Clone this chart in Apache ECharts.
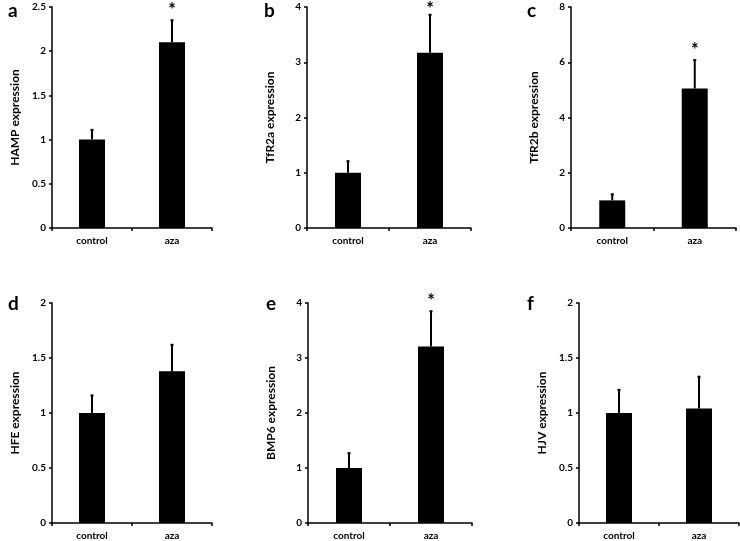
<!DOCTYPE html>
<html><head><meta charset="utf-8">
<script src="https://cdn.jsdelivr.net/npm/echarts@6/dist/echarts.min.js"></script>
<style>html,body{margin:0;padding:0;background:#fff}#c{width:740px;height:541px}</style>
</head><body><div id="c"></div>
<script>
const categories = ['control', 'aza'];
const panelLetters = ['a', 'b', 'c', 'd', 'e', 'f'];
const yNames = ['HAMP expression', 'TfR2a expression', 'TfR2b expression', 'HFE expression', 'BMP6 expression', 'HJV expression'];
const meansA = [1, 2.1], errA = [0.11, 0.25];
const meansB = [1, 3.17], errB = [0.21, 0.69];
const meansC = [1, 5.05], errC = [0.22, 1.03];
const meansD = [1, 1.38], errD = [0.16, 0.24];
const meansE = [1, 3.21], errE = [0.27, 0.64];
const meansF = [1, 1.04], errF = [0.21, 0.29];
const means = [meansA, meansB, meansC, meansD, meansE, meansF];
const errs = [errA, errB, errC, errD, errE, errF];
const yMax = [2.5, 4, 8, 2, 4, 2];
const yInterval = [0.5, 1, 2, 0.5, 1, 0.5];
const significant = [[false, true], [false, true], [false, true], [false, false], [false, true], [false, false]];

const FONT = 'Lato';
const grids = [
  {left: 52, top: 7, width: 160, height: 221},
  {left: 307, top: 7, width: 164, height: 221},
  {left: 571, top: 7, width: 165, height: 221},
  {left: 52, top: 303, width: 160, height: 221},
  {left: 308, top: 303, width: 164, height: 221},
  {left: 579, top: 303, width: 160, height: 221}
];
const letterPos = [[14, 13], [270, 13], [533, 13], [14, 306], [272, 306], [533, 306]];

const xAxes = [], yAxes = [], series = [], graphics = [];
for (let i = 0; i < 6; i++) {
  xAxes.push({
    type: 'category', gridIndex: i, data: categories,
    axisLine: {lineStyle: {color: '#000', width: 1.5}},
    axisTick: {show: true, length: 3, lineStyle: {color: '#000', width: 1.5}},
    axisLabel: {color: '#000', fontFamily: FONT, fontWeight: 'bold', fontSize: 10, margin: 8},
    splitLine: {show: false}
  });
  yAxes.push({
    type: 'value', gridIndex: i, min: 0, max: yMax[i], interval: yInterval[i],
    name: yNames[i], nameLocation: 'middle', nameGap: 31,
    nameTextStyle: {color: '#000', fontFamily: FONT, fontWeight: 'bold', fontSize: 12},
    axisLine: {show: true, lineStyle: {color: '#000', width: 1.5}},
    axisTick: {show: true, length: 3, lineStyle: {color: '#000', width: 1.5}},
    axisLabel: {color: '#000', fontFamily: FONT, fontWeight: 'bold', fontSize: 10, margin: 6},
    splitLine: {show: false}
  });
  series.push({
    type: 'bar', xAxisIndex: i, yAxisIndex: i, data: means[i], barWidth: 26,
    itemStyle: {color: '#000'}, silent: true
  });
  const errData = means[i].map((m, j) => [j, m, m + errs[i][j], significant[i][j] ? 1 : 0]);
  series.push({
    type: 'custom', xAxisIndex: i, yAxisIndex: i, data: errData, silent: true, z: 5, clip: false,
    renderItem: function (params, api) {
      const base = api.coord([api.value(0), api.value(1)]);
      const top = api.coord([api.value(0), api.value(2)]);
      const children = [
        {type: 'line', shape: {x1: base[0], y1: base[1], x2: top[0], y2: top[1]}, style: {stroke: '#000', lineWidth: 2}},
        {type: 'line', shape: {x1: top[0] - 1.5, y1: top[1], x2: top[0] + 1.5, y2: top[1]}, style: {stroke: '#000', lineWidth: 2}}
      ];
      if (api.value(3) === 1) {
        const cy = Math.max(top[1] - 14, 5);
        children.push({type: 'text', x: top[0], y: cy + 4, style: {text: '*', fill: '#000', font: 'bold 18px ' + FONT, textAlign: 'center', textVerticalAlign: 'middle'}});
      }
      return {type: 'group', children: children};
    }
  });
  graphics.push({type: 'text', left: letterPos[i][0] - 6, top: letterPos[i][1] - 12,
    style: {text: panelLetters[i], fill: '#000', font: 'bold 19px ' + FONT}});
}

const chart = echarts.init(document.getElementById('c'));
chart.setOption({
  animation: false,
  grid: grids,
  xAxis: xAxes,
  yAxis: yAxes,
  series: series,
  graphic: graphics
});
</script></body></html>
